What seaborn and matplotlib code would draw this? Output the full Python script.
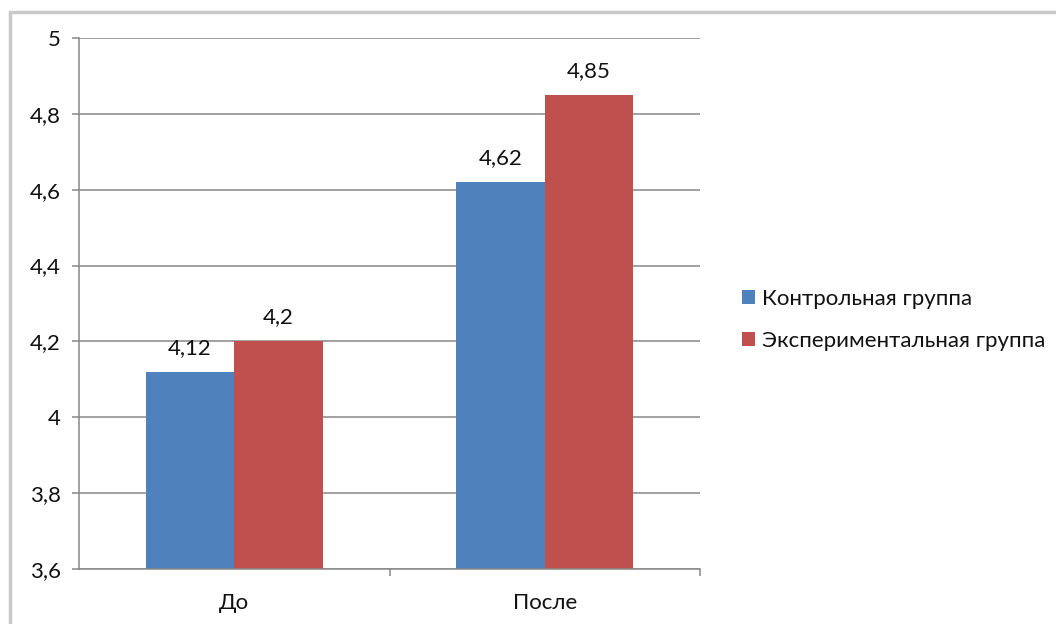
import matplotlib
matplotlib.use("Agg")
import matplotlib.pyplot as plt
from matplotlib.lines import Line2D
from matplotlib.ticker import FixedLocator, FuncFormatter
import seaborn as sns
import pandas as pd

# Data
stages = ["До", "После"]
groups = ["Контрольная группа", "Экспериментальная группа"]
control = [4.12, 4.62]
experimental = [4.20, 4.85]
y_ticks = [3.6, 3.8, 4.0, 4.2, 4.4, 4.6, 4.8, 5.0]

df = pd.DataFrame({
    "stage": stages * 2,
    "group": [groups[0]] * len(stages) + [groups[1]] * len(stages),
    "score": control + experimental,
})

sns.set_theme(style="white")
plt.rcParams["font.family"] = ["Lato", "DejaVu Sans"]

W, H = 1056, 624
FS = 16
fig = plt.figure(figsize=(W / 100, H / 100), dpi=100)
fig.patch.set_facecolor("white")
ax = fig.add_axes([79 / W, 1 - 569 / H, (700 - 79) / W, (569 - 38) / H])

palette = {groups[0]: "#4F81BD", groups[1]: "#C0504D"}
sns.barplot(data=df, x="stage", y="score", hue="group", hue_order=groups,
            order=stages, palette=palette, width=0.57, saturation=1,
            edgecolor="none", ax=ax, legend=True)

ax.set_xlim(-0.5, 1.5)
ax.set_ylim(3.6, 5.0)
ax.set_xlabel("")
ax.set_ylabel("")

fmt = lambda v: f"{v:g}".replace(".", ",")
ax.yaxis.set_major_locator(FixedLocator(y_ticks))
ax.yaxis.set_major_formatter(FuncFormatter(lambda v, p: fmt(round(v, 2))))
ax.grid(axis="y", color="#878787", linewidth=1.1)
ax.set_axisbelow(True)

ax.tick_params(axis="y", which="major", left=True, length=5, width=1.1,
               color="#878787", labelsize=FS, pad=8, labelcolor="#111111")
ax.tick_params(axis="x", which="major", length=0, labelsize=FS, pad=17,
               labelcolor="#111111")
ax.set_xticks([0.5, 1.5], minor=True)
ax.tick_params(axis="x", which="minor", bottom=True, length=5, width=1.1,
               color="#878787")

for side in ["top", "right"]:
    ax.spines[side].set_visible(False)
for side in ["left", "bottom"]:
    ax.spines[side].set_color("#878787")
    ax.spines[side].set_linewidth(1.1)

# Value labels above each bar
for container, vals in zip(ax.containers, [control, experimental]):
    ax.bar_label(container, labels=[fmt(v) for v in vals], padding=10,
                 fontsize=FS, color="#111111")

handles, labels = ax.get_legend_handles_labels()
leg = ax.legend(handles, labels, loc="center left",
                bbox_to_anchor=(722 / W, 1 - 320 / H),
                bbox_transform=fig.transFigure, frameon=False,
                fontsize=FS, handlelength=0.6, handleheight=0.6,
                handletextpad=0.3, labelspacing=1.0)
for t in leg.get_texts():
    t.set_color("#111111")

# Outer chart frame
frame_kw = dict(color="#c8c8c8", linewidth=2.5, transform=None)
fig.add_artist(Line2D([10, W], [H - 12, H - 12], **frame_kw))
fig.add_artist(Line2D([10, 10], [0, H - 12], **frame_kw))

fig.savefig("out.png", dpi=100, facecolor="white")
